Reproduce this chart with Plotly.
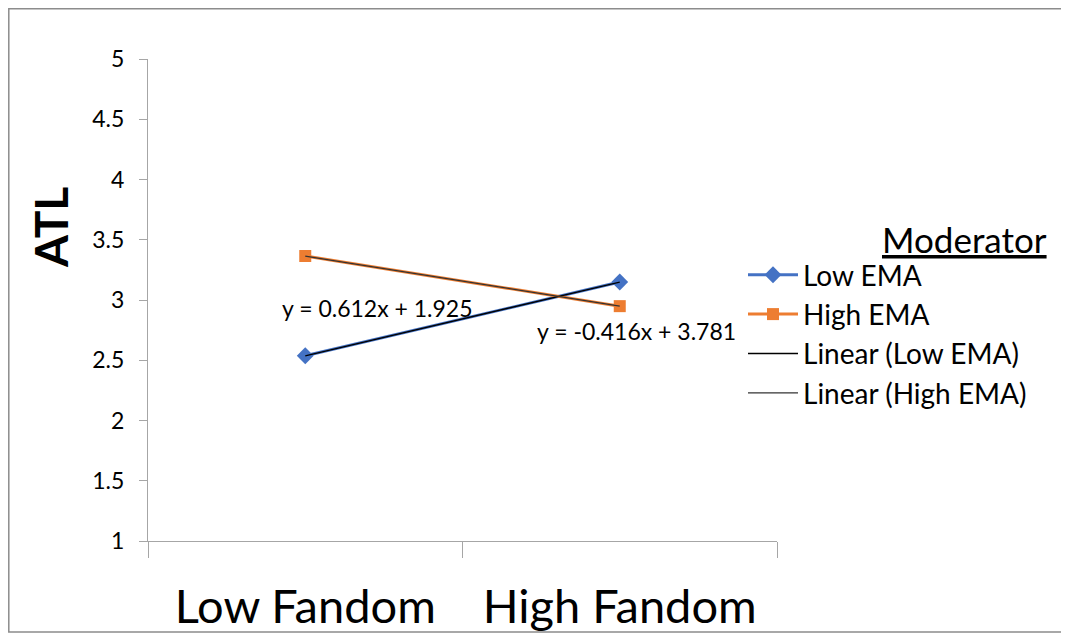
import plotly.graph_objects as go

categories = ["Low Fandom", "High Fandom"]
x_pos = [1, 2]
low_ema = [2.537, 3.149]
high_ema = [3.365, 2.949]
low_fit = (0.612, 1.925)
high_fit = (-0.416, 3.781)
y_ticks = [1, 1.5, 2, 2.5, 3, 3.5, 4, 4.5, 5]
y_tick_text = ["1", "1.5", "2", "2.5", "3", "3.5", "4", "4.5", "5"]

FONT = "Lato"
OFF = 8  # browser body margin
W, H = 1069 - OFF, 635 - OFF
L, T = 148 - OFF, 59 - OFF
R = W - (777 - OFF)
B = H - (541 - OFF)
pw, ph = W - L - R, H - T - B

def px_x(px):  # reference page pixel -> paper x
    return (px - OFF - L) / pw

def px_y(py):  # reference page pixel -> paper y
    return (H - B - (py - OFF)) / ph

fig = go.Figure()
fig.add_trace(go.Scatter(x=x_pos, y=low_ema, name="Low EMA", mode="lines+markers",
                         line=dict(color="#4472C4", width=3),
                         marker=dict(symbol="diamond", size=13, color="#4472C4")))
fig.add_trace(go.Scatter(x=x_pos, y=high_ema, name="High EMA", mode="lines+markers",
                         line=dict(color="#ED7D31", width=3),
                         marker=dict(symbol="square", size=12, color="#ED7D31")))
fig.add_trace(go.Scatter(x=x_pos, y=[low_fit[0] * x + low_fit[1] for x in x_pos],
                         name="Linear (Low EMA)", mode="lines",
                         line=dict(color="#000000", width=1.3)))
fig.add_trace(go.Scatter(x=x_pos, y=[high_fit[0] * x + high_fit[1] for x in x_pos],
                         name="Linear (High EMA)", mode="lines",
                         line=dict(color="#333333", width=1.3)))

fig.update_layout(
    width=W, height=H,
    margin=dict(l=L, r=R, t=T, b=B, autoexpand=False),
    paper_bgcolor="white", plot_bgcolor="white",
    font=dict(family=FONT, color="#000000"),
    showlegend=True,
    legend=dict(x=px_x(743), y=px_y(250), xanchor="left", yanchor="top",
                font=dict(size=28, family=FONT), itemwidth=50,
                bgcolor="rgba(0,0,0,0)", tracegroupgap=0),
    xaxis=dict(range=[0.5, 2.5], tickvals=x_pos, ticktext=categories, ticks="",
               tickfont=dict(size=47, family=FONT), ticklabelstandoff=24,
               showgrid=False, zeroline=False, showline=True, linecolor="#A6A6A6", linewidth=1.3,
               minor=dict(tickvals=[0.5, 1.5, 2.5], ticks="outside", ticklen=16,
                          tickcolor="#A6A6A6", tickwidth=1.3, showgrid=False)),
    yaxis=dict(range=[1, 5], tickvals=y_ticks, ticktext=y_tick_text, ticks="outside",
               ticklen=8, tickcolor="#A6A6A6", tickwidth=1.3,
               tickfont=dict(size=23, family=FONT), ticklabelstandoff=10,
               showgrid=False, zeroline=False, showline=True, linecolor="#A6A6A6", linewidth=1.3),
    annotations=[
        dict(text="<b>ATL</b>", textangle=-90, xref="paper", yref="paper",
             x=px_x(50), y=px_y(228), xanchor="center", yanchor="middle",
             showarrow=False, font=dict(size=46, family=FONT)),
        dict(text="<u>Moderator</u>", xref="paper", yref="paper", x=px_x(1049),
             y=px_y(239), xanchor="right", yanchor="middle", showarrow=False,
             font=dict(size=35, family=FONT)),
        dict(text="y = 0.612x + 1.925", xref="paper", yref="paper", x=px_x(377),
             y=px_y(308), xanchor="center", yanchor="middle", showarrow=False,
             font=dict(size=23, family=FONT)),
        dict(text="y = -0.416x + 3.781", xref="paper", yref="paper", x=px_x(636),
             y=px_y(331), xanchor="center", yanchor="middle", showarrow=False,
             font=dict(size=23, family=FONT)),
    ],
    shapes=[
        dict(type="rect", xref="paper", yref="paper",
             x0=px_x(8.8), x1=px_x(1068),
             y0=px_y(632), y1=px_y(8.8),
             line=dict(color="#8C8C8C", width=1.5), fillcolor="rgba(0,0,0,0)", layer="below"),
    ],
)

fig.write_html("out.html")
